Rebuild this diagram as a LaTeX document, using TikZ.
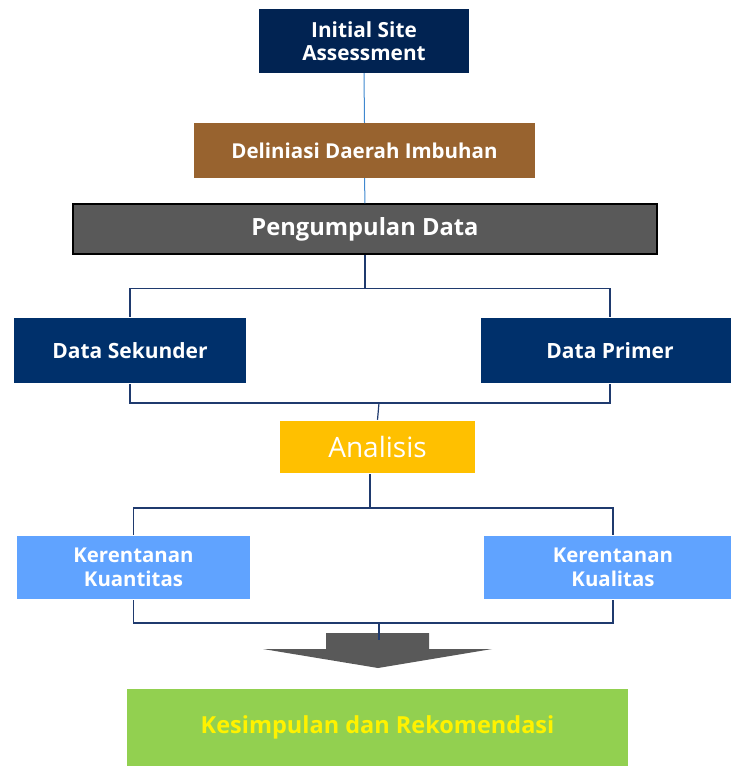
\documentclass[tikz,border=0pt]{standalone}
\usepackage{fontspec}
\setmainfont{Open Sans}
\definecolor{navyA}{HTML}{012352}
\definecolor{navyB}{HTML}{00306B}
\definecolor{brownA}{HTML}{98632F}
\definecolor{grayA}{HTML}{595959}
\definecolor{goldA}{HTML}{FFC000}
\definecolor{skyA}{HTML}{60A3FF}
\definecolor{greenA}{HTML}{92D050}
\definecolor{lineBlue}{HTML}{3F88CF}
\definecolor{lineNavy}{HTML}{1F3A6E}
\newcommand{\fsz}[1]{\fontsize{#1}{23.5}\selectfont}
\begin{document}
\begin{tikzpicture}[x=1pt,y=-1pt,
  box/.style={rectangle, inner sep=0pt, align=center, text=white,
    font=\bfseries},
  halo/.style={draw=gray!35, double=white, double distance=1.6pt, line width=0.5pt},
  conA/.style={draw=lineBlue, line width=1pt},
  conB/.style={draw=lineNavy, line width=1.2pt}]
\useasboundingbox (0,0) rectangle (731,766);
\clip (0,0) rectangle (731,766);
\node[box, fill=navyA, minimum width=210pt, minimum height=64pt, font=\fsz{20.8}\bfseries] (isa) at (364,41) {Initial Site\\Assessment};
\node[box, fill=brownA, minimum width=341pt, minimum height=55pt, font=\fsz{20.5}\bfseries] (del) at (364.5,150.5) {Deliniasi Daerah Imbuhan};
\node[box, fill=grayA, draw=black, line width=1.5pt, minimum width=584pt, minimum height=50pt, font=\fsz{23.7}\bfseries] (pd) at (365,229) {Pengumpulan Data};
\node[box, halo, fill=navyB, minimum width=234pt, minimum height=67pt, font=\fsz{21}\bfseries] (ds) at (130,350.5) {Data Sekunder};
\node[box, halo, fill=navyB, minimum width=260pt, minimum height=67pt, font=\fsz{21}\bfseries] (dp) at (610,350.5) {Data Primer};
\node[box, halo, fill=goldA, minimum width=197pt, minimum height=54pt, font=\fontsize{28}{32}\selectfont] (an) at (377.5,447) {Analisis};
\node[box, halo, fill=skyA, minimum width=235pt, minimum height=65pt, font=\fsz{20.4}\bfseries] (kn) at (133.5,567.5) {Kerentanan\\Kuantitas};
\node[box, halo, fill=skyA, minimum width=260pt, minimum height=65pt, font=\fsz{20.4}\bfseries] (kl) at (613,567.5) {Kerentanan\\Kualitas};
\node[box, fill=greenA, minimum width=501pt, minimum height=77pt, text=yellow, font=\fsz{23.5}\bfseries] (ks) at (377.5,727.5) {Kesimpulan dan Rekomendasi};
% big arrow
\fill[grayA] (326,633) -- (429,633) -- (429,649) -- (492,649) -- (378,668) -- (263,649) -- (326,649) -- cycle;
\coordinate (arrtop) at (379,640);
% connectors
\draw[conA] (isa.south) -- (del.north);
\draw[conA] (del.south) -- (pd.north);
\draw[conB] (pd.south) -- ++(0,34) coordinate (j1);
\draw[conB] (ds.north) |- (j1) -| (dp.north);
\coordinate (j2) at (379,403);
\draw[conB] (ds.south) |- (j2) -| (dp.south);
\draw[conB] (j2) -- (an.north);
\coordinate (j3) at (370,508);
\draw[conB] (j3 |- an.south) -- (j3);
\draw[conB] (kn.north) |- (j3) -| (kl.north);
\coordinate (j4) at (379,623);
\draw[conB] (kn.south) |- (j4) -| (kl.south);
\draw[conB] (j4) -- (arrtop);
\end{tikzpicture}
\end{document}
